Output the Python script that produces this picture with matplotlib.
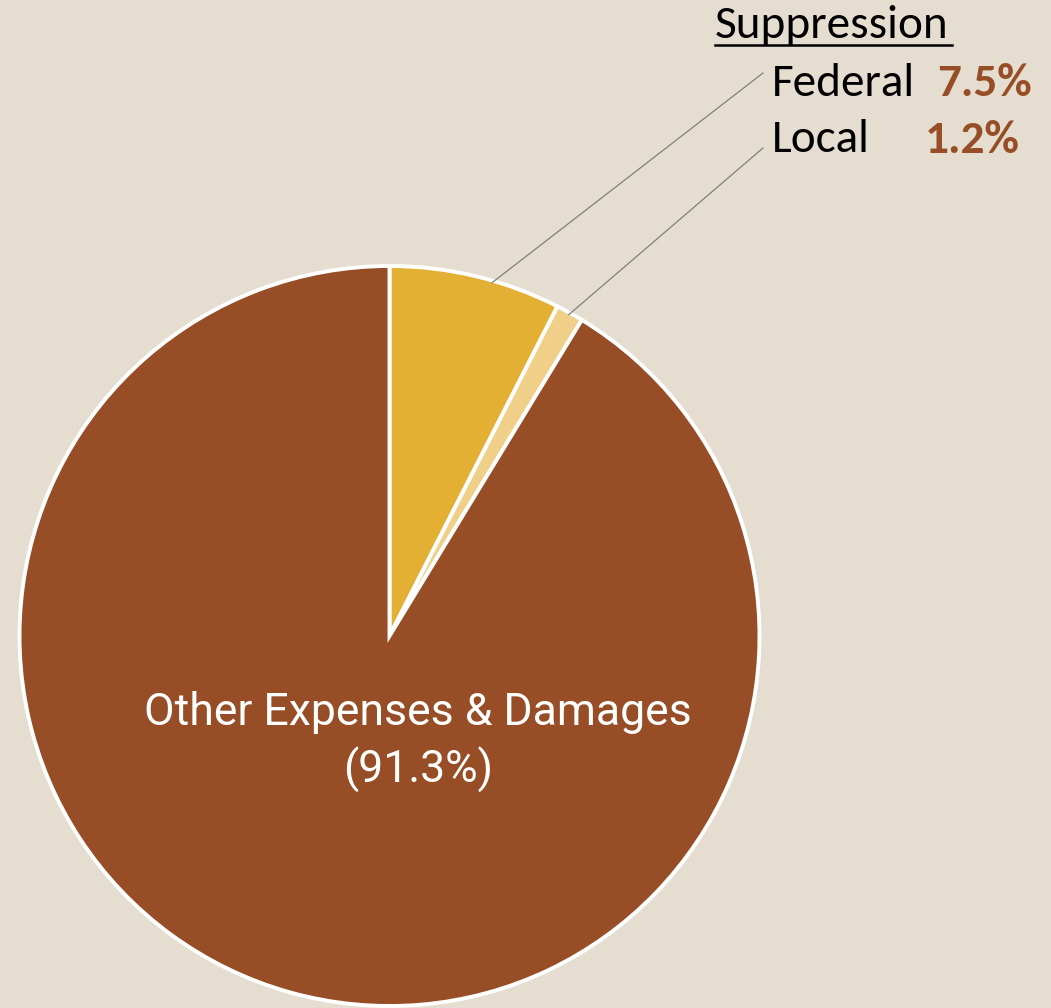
import numpy as np
import matplotlib.pyplot as plt

# data
labels = ['Federal', 'Local', 'Other Expenses & Damages']
shares = [7.5, 1.2, 91.3]
colors = ['#E3B034', '#F0D088', '#974E27']
bg = '#E4DDD0'

fig = plt.figure(figsize=(10.51, 10.08), dpi=100, facecolor=bg)
ax = fig.add_axes([0, 0, 1, 1])
ax.set_facecolor(bg)

cx, cy, r = 389.5, 372, 370
wedges, _ = ax.pie(shares, colors=colors, startangle=90, counterclock=False,
                   center=(cx, cy), radius=r, frame=True,
                   wedgeprops=dict(edgecolor='white', linewidth=2.8))
ax.set_xlim(0, 1051)
ax.set_ylim(0, 1008)
ax.set_aspect('equal')
ax.axis('off')

# leader lines from the small wedges to their labels
label_y = [925, 868]
line_end = [935, 860]
anchor = [0.6, 0.5]
for w, ey, f in zip(wedges[:2], line_end, anchor):
    ang = np.deg2rad(w.theta1 + (w.theta2 - w.theta1) * (1 - f))
    x0 = cx + (r - 2) * np.cos(ang)
    y0 = cy + (r - 2) * np.sin(ang)
    ax.plot([x0, 763], [y0, ey], color='#7F7F7F', lw=0.9)

font = ['Carlito', 'Open Sans', 'DejaVu Sans']
ax.text(715, 983, 'Suppression', fontsize=34, family=font, va='center', ha='left')
ax.plot([715, 952], [963, 963], color='black', lw=1.8)
for name, val, ty, vx in zip(labels[:2], shares[:2], label_y, [937, 925]):
    ax.text(772, ty, name, fontsize=34, family=font, va='center', ha='left')
    ax.text(vx, ty, f'{val}%', fontsize=34, family=font, va='center', ha='left',
            color='#974E27', fontweight='bold')

ax.text(418, 266, f'{labels[2]}\n({shares[2]}%)', fontsize=32, family=['Roboto', 'DejaVu Sans'],
        color='white', ha='center', va='center', linespacing=1.35)

fig.savefig('out.png', dpi=100, facecolor=bg)
